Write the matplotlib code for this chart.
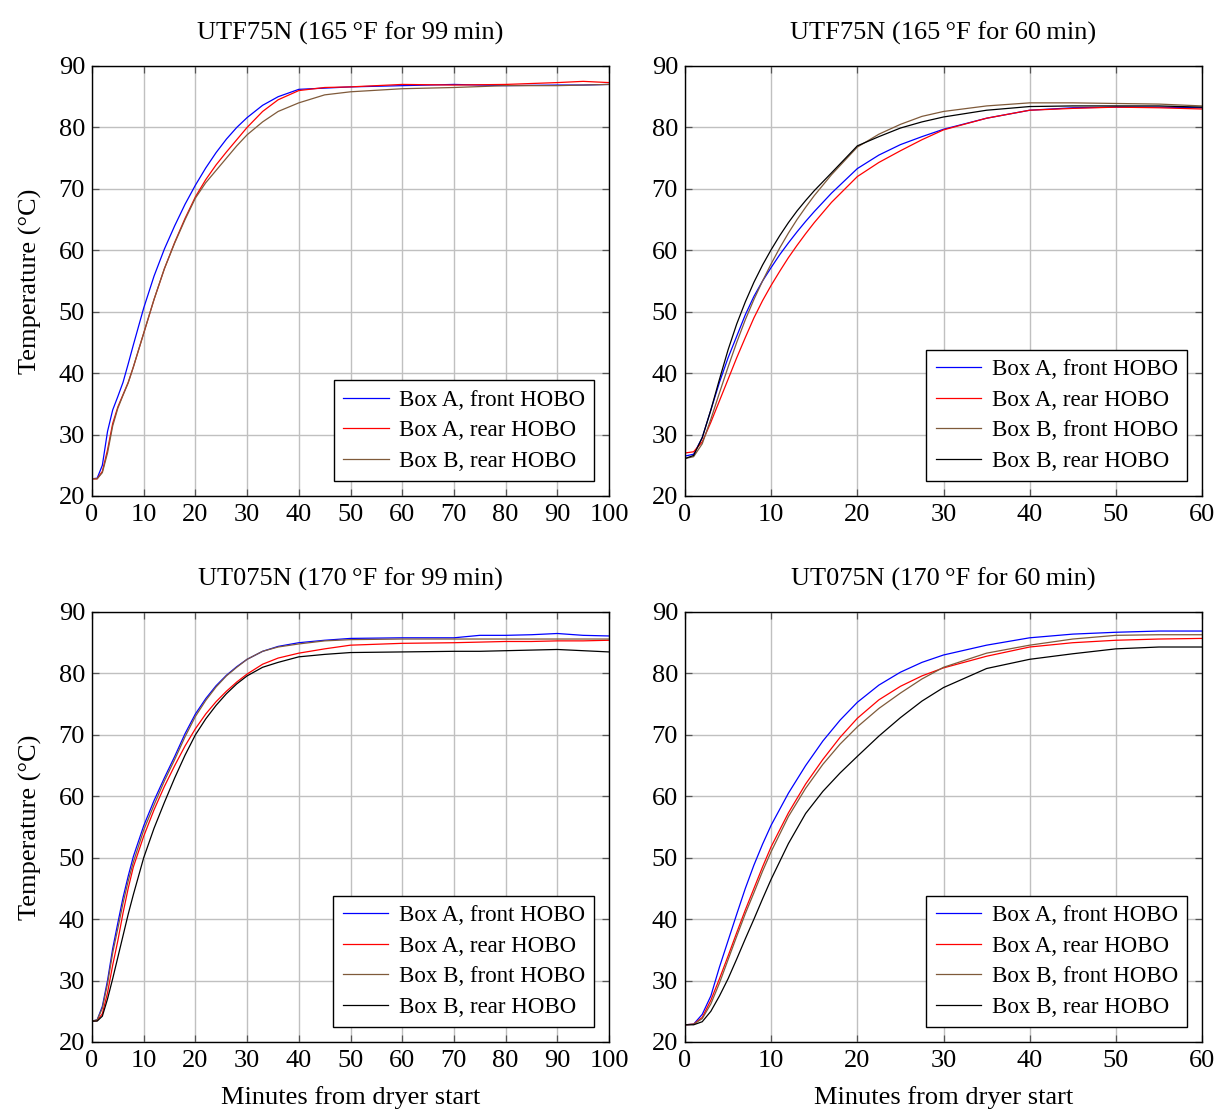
import matplotlib
matplotlib.use('Agg')
import matplotlib.pyplot as plt

plt.rcParams['font.family'] = ['Liberation Serif', 'DejaVu Serif']

BLUE = '#0000ff'
RED = '#ff0000'
BROWN = '#7f5a3a'
BLACK = '#000000'

# --- UTF75N, 165 F, 99 min ---
tl_t = [0, 1, 2, 3, 4, 5, 6, 7, 8, 10, 12, 14, 16, 18, 20, 22, 24, 26, 28, 30, 33, 36, 40, 45, 50, 60, 70, 80, 90, 95, 100]
tl_a_front = [22.8, 22.9, 25, 30.5, 34, 36.2, 38.5, 41.5, 44.6, 50.6, 55.8, 60.2, 64, 67.5, 70.6, 73.4, 75.9, 78.1, 80, 81.6,
              83.6, 85, 86.2, 86.4, 86.6, 86.8, 87, 86.8, 86.9, 86.9, 87]
tl_a_rear = [22.8, 22.8, 24, 27.5, 31.8, 34.5, 36.5, 38.5, 41, 46.5, 52, 57, 61.3, 65.2, 68.7, 71.5, 73.9, 76, 78, 80,
             82.6, 84.5, 86, 86.5, 86.6, 87, 86.9, 87, 87.3, 87.5, 87.3]
tl_b_rear = [22.8, 22.8, 23.8, 27, 31.4, 34.3, 36.4, 38.4, 41, 46.5, 52, 57, 61.2, 65, 68.5, 71, 73, 75, 77, 78.8,
             80.9, 82.6, 84, 85.3, 85.8, 86.3, 86.5, 86.8, 86.8, 86.9, 87]

# --- UTF75N, 165 F, 60 min ---
tr_t = [0, 1, 2, 3, 4, 5, 6, 7, 8, 9, 10, 11, 12, 13, 14, 15, 17, 20, 22.5, 25, 27.5, 30, 35, 40, 45, 50, 55, 60]
tr_a_front = [26.5, 26.8, 29.5, 34, 38.5, 42.5, 46, 49.5, 52.5, 55, 57.2, 59.3, 61.2, 63, 64.7, 66.3, 69.3, 73.3, 75.5,
              77.2, 78.5, 79.7, 81.5, 82.8, 83.2, 83.3, 83.3, 83.2]
tr_a_rear = [27, 27.2, 28.8, 32, 35.5, 39, 42.5, 45.8, 49, 51.8, 54.3, 56.6, 58.8, 60.8, 62.7, 64.5, 67.8, 72, 74.3,
             76.2, 78, 79.6, 81.5, 82.8, 83.1, 83.3, 83.2, 83.0]
tr_b_front = [26.1, 26.4, 28.5, 32.5, 36.8, 41, 45, 48.7, 52, 55, 57.8, 60.4, 62.8, 65, 67, 68.9, 72.3, 76.8, 78.9,
              80.5, 81.8, 82.6, 83.5, 84, 84, 83.9, 83.8, 83.5]
tr_b_rear = [26.1, 26.6, 29.5, 34, 39, 43.8, 48, 51.6, 54.8, 57.6, 60.1, 62.4, 64.5, 66.4, 68.1, 69.7, 72.6, 77, 78.5,
             79.9, 80.9, 81.7, 82.8, 83.4, 83.5, 83.5, 83.5, 83.3]

# --- UT075N, 170 F, 99 min ---
bl_t = [0, 1, 2, 3, 4, 5, 6, 7, 8, 10, 12, 14, 16, 18, 20, 22, 24, 26, 28, 30, 33, 36, 40, 45, 50, 60, 70, 75, 80, 85, 90, 95, 100]
bl_a_front = [23.4, 23.6, 25.8, 30, 35.2, 39.4, 43.5, 47, 50.2, 55.2, 59.3, 63, 66.5, 70.2, 73.4, 75.9, 78, 79.7, 81.1,
              82.3, 83.6, 84.4, 85, 85.4, 85.7, 85.8, 85.8, 86.2, 86.2, 86.3, 86.5, 86.2, 86.1]
bl_a_rear = [23.4, 23.5, 24.6, 28, 32.5, 36.5, 41, 45, 48.5, 53.5, 57.8, 61.6, 65, 68.2, 71, 73.4, 75.4, 77.1, 78.6,
             79.9, 81.5, 82.5, 83.3, 84, 84.6, 84.9, 85.0, 85.1, 85.2, 85.2, 85.3, 85.3, 85.4]
bl_b_front = [23.4, 23.6, 25.5, 29.5, 34.5, 38.5, 42.6, 46.2, 49.3, 54.5, 58.6, 62.5, 66, 69.7, 73, 75.6, 77.8, 79.6, 81,
              82.3, 83.6, 84.3, 84.8, 85.3, 85.5, 85.6, 85.6, 85.6, 85.6, 85.6, 85.6, 85.6, 85.6]
bl_b_rear = [23.4, 23.4, 24.2, 27, 30.3, 33.8, 37.3, 40.8, 44, 50, 54.8, 59, 63, 66.7, 70, 72.6, 74.8, 76.7, 78.3,
             79.6, 81, 81.8, 82.7, 83.1, 83.4, 83.5, 83.6, 83.6, 83.7, 83.8, 83.9, 83.7, 83.5]

# --- UT075N, 170 F, 60 min ---
br_t = [0, 1, 2, 3, 4, 5, 6, 7, 8, 9, 10, 12, 14, 16, 18, 20, 22.5, 25, 27.5, 30, 35, 40, 45, 50, 55, 60]
br_a_front = [22.8, 22.9, 24.5, 27.5, 32.2, 36.5, 40.8, 45, 48.8, 52.2, 55.3, 60.5, 65, 69, 72.4, 75.3, 78.1, 80.2,
              81.8, 83, 84.6, 85.8, 86.4, 86.7, 86.9, 86.9]
br_a_rear = [22.8, 22.9, 24, 26.8, 30.3, 34, 37.8, 41.5, 45, 48.5, 51.8, 57.3, 62, 66, 69.6, 72.7, 75.7, 77.9,
             79.6, 80.9, 82.8, 84.3, 85, 85.4, 85.6, 85.7]
br_b_front = [22.8, 22.9, 23.8, 26.2, 29.6, 33.4, 37.2, 40.9, 44.3, 47.8, 51, 56.7, 61.3, 65.2, 68.5, 71.3, 74.3, 76.8,
              79.1, 81, 83.3, 84.6, 85.6, 86.2, 86.3, 86.3]
br_b_rear = [22.8, 22.8, 23.3, 25, 27.5, 30.3, 33.5, 36.8, 40, 43.3, 46.5, 52.3, 57.2, 60.8, 63.8, 66.5, 69.8, 72.8,
             75.5, 77.7, 80.8, 82.3, 83.2, 84, 84.3, 84.3]

LABELS = ['Box A, front HOBO', 'Box A, rear HOBO', 'Box B, front HOBO', 'Box B, rear HOBO']
TITLES = ['UTF75N (165\u2009°F for 99\u2009min)', 'UTF75N (165\u2009°F for 60\u2009min)',
          'UT075N (170\u2009°F for 99\u2009min)', 'UT075N (170\u2009°F for 60\u2009min)']

FS = 19
LEG_FS = 16.5


def style_axes(ax, xmax, title):
    ax.set_xlim(0, xmax)
    ax.set_ylim(20, 90)
    ax.set_xticks(range(0, xmax + 1, 10))
    ax.set_yticks(range(20, 91, 10))
    ax.grid(True, color='#c0c0c0', lw=1.0)
    ax.set_axisbelow(True)
    ax.tick_params(direction='in', length=5, width=0.9, color='#555555',
                   top=True, right=True, labelsize=FS)
    ax.tick_params(axis='x', pad=6)
    ax.tick_params(axis='y', pad=5)
    for sp in ax.spines.values():
        sp.set_linewidth(1.0)
    ax.set_title(title, fontsize=FS, pad=19)


def add_legend(ax):
    ax.legend(loc='lower right', fontsize=LEG_FS, frameon=True, fancybox=False,
              edgecolor='black', framealpha=1, handlelength=2.0,
              borderpad=0.4, labelspacing=0.42, borderaxespad=0.65,
              handletextpad=0.45)


def main():
    fig = plt.figure(figsize=(12.18, 11.12), dpi=100)
    W, H = 1218, 1112
    axw, axh = 517 / W, 430 / H
    ax_tl = fig.add_axes([92 / W, (H - 496) / H, axw, axh])
    ax_tr = fig.add_axes([685 / W, (H - 496) / H, axw, axh])
    ax_bl = fig.add_axes([92 / W, (H - 1042) / H, axw, axh])
    ax_br = fig.add_axes([685 / W, (H - 1042) / H, axw, axh])

    lw = 0.9
    ax_tl.plot(tl_t, tl_a_front, color=BLUE, lw=lw, label=LABELS[0])
    ax_tl.plot(tl_t, tl_a_rear, color=RED, lw=lw, label=LABELS[1])
    ax_tl.plot(tl_t, tl_b_rear, color=BROWN, lw=lw, label=LABELS[3])

    ax_tr.plot(tr_t, tr_a_front, color=BLUE, lw=lw, label=LABELS[0])
    ax_tr.plot(tr_t, tr_a_rear, color=RED, lw=lw, label=LABELS[1])
    ax_tr.plot(tr_t, tr_b_front, color=BROWN, lw=lw, label=LABELS[2])
    ax_tr.plot(tr_t, tr_b_rear, color=BLACK, lw=lw, label=LABELS[3])

    ax_bl.plot(bl_t, bl_a_front, color=BLUE, lw=lw, label=LABELS[0])
    ax_bl.plot(bl_t, bl_a_rear, color=RED, lw=lw, label=LABELS[1])
    ax_bl.plot(bl_t, bl_b_front, color=BROWN, lw=lw, label=LABELS[2])
    ax_bl.plot(bl_t, bl_b_rear, color=BLACK, lw=lw, label=LABELS[3])

    ax_br.plot(br_t, br_a_front, color=BLUE, lw=lw, label=LABELS[0])
    ax_br.plot(br_t, br_a_rear, color=RED, lw=lw, label=LABELS[1])
    ax_br.plot(br_t, br_b_front, color=BROWN, lw=lw, label=LABELS[2])
    ax_br.plot(br_t, br_b_rear, color=BLACK, lw=lw, label=LABELS[3])

    for ax, xmax, title in zip([ax_tl, ax_tr, ax_bl, ax_br], [100, 60, 100, 60], TITLES):
        style_axes(ax, xmax, title)
        add_legend(ax)

    for ax in [ax_tl, ax_bl]:
        ax.set_ylabel('Temperature (°C)', fontsize=FS, labelpad=12)
    for ax in [ax_bl, ax_br]:
        ax.set_xlabel('Minutes from dryer start', fontsize=FS, labelpad=10)

    fig.savefig('out.png', dpi=100)


if __name__ == '__main__':
    main()
